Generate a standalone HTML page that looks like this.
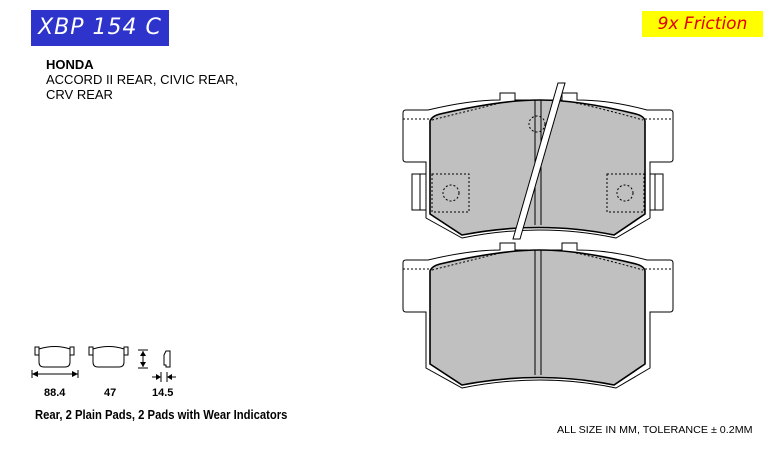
<!DOCTYPE html>
<html><head><meta charset="utf-8"><style>
body{margin:0;width:779px;height:463px;background:#fff;position:relative;overflow:hidden;font-family:"Liberation Sans",sans-serif}
.t{position:absolute;white-space:nowrap}
</style></head><body>
<div class="t" style="left:31px;top:10px;width:138px;height:36px;background:#2e33cc;color:#fff;font-family:'DejaVu Sans',sans-serif;font-style:italic;font-size:22px;line-height:36px;text-align:center;letter-spacing:1px">XBP 154 C</div>
<div class="t" style="left:642px;top:11px;width:121px;height:26px;background:#ffff00;color:#e00000;font-family:'DejaVu Sans',sans-serif;font-style:italic;font-size:17px;line-height:26px;text-align:center">9x Friction</div>
<div class="t" style="left:46px;top:57px;font-size:13px;line-height:15px;font-weight:bold">HONDA</div>
<div class="t" style="left:46px;top:72px;font-size:13px;line-height:15px">ACCORD II REAR, CIVIC REAR,</div>
<div class="t" style="left:46px;top:87px;font-size:13px;line-height:15px">CRV REAR</div>
<div class="t" style="left:44px;top:387px;font-size:11px;font-weight:bold">88.4</div>
<div class="t" style="left:104px;top:387px;font-size:11px;font-weight:bold">47</div>
<div class="t" style="left:152px;top:387px;font-size:11px;font-weight:bold">14.5</div>
<div class="t" style="left:35px;top:408px;font-size:12.5px;font-weight:bold;transform:scaleX(0.9);transform-origin:left">Rear, 2 Plain Pads, 2 Pads with Wear Indicators</div>
<div class="t" style="left:557px;top:424px;font-size:10.5px;transform:scaleX(1.02);transform-origin:left">ALL SIZE IN MM, TOLERANCE ± 0.2MM</div>
<svg width="779" height="463" style="position:absolute;left:0;top:0" fill="none" stroke="#000">
<defs>
<g id="pad">
<path d="M426,162 H406 Q403,162 403,159 V113 Q403,110 406,110 H428 Q470,100 500,100 V93 H515 V100 H562 V93 H577 V100 Q610,100 647,110 H670 Q673,110 673,113 V159 Q673,162 670,162 H650 V218 L616,238 Q540,222 462,238 L426,218 Z" fill="#fff" stroke-width="1"/>
<path d="M430,121 Q432,116 440,114 Q500,100 540,100 Q580,100 636,114 Q644,116 645,121 V214 L614,235 Q540,220 462,235 L430,214 Z" fill="#c0c0c0" stroke-width="1.6"/>
<line x1="535" y1="100" x2="535" y2="225"/><line x1="541" y1="100" x2="541" y2="225"/>
<path d="M432,120 Q480,108 500,103 M576,103 Q600,108 643,120" stroke-dasharray="2,2"/>
<path d="M403,119 H430 M645,119 H673" stroke-dasharray="2,2"/>
</g>
<g id="mini">
<rect x="35" y="347" width="4" height="8" fill="#fff"/><rect x="70" y="347" width="4" height="8" fill="#fff"/>
<path d="M39,349 Q55,344 70,349 V362 Q70,367 65,367 H44 Q39,367 39,362 Z" fill="#fff"/>
</g>
</defs>
<use href="#pad" transform="translate(0,150)"/>
<rect x="412" y="174" width="14" height="36" fill="#fff"/><rect x="650" y="174" width="13" height="36" fill="#fff"/>
<line x1="420" y1="174" x2="420" y2="210"/><line x1="655" y1="174" x2="655" y2="210"/>
<use href="#pad"/>
<g stroke-dasharray="2,2">
<rect x="432" y="174" width="37" height="38"/><circle cx="451" cy="193" r="8"/>
<rect x="607" y="174" width="37" height="38"/><circle cx="625" cy="193" r="8"/>
<circle cx="537" cy="124" r="8"/>
</g>
<polygon points="558,83 565,83 520,239 513,239" fill="#fff"/>
<g stroke-width="1">
<use href="#mini"/>
<use href="#mini" transform="translate(54,0)"/>
<line x1="32" y1="374" x2="78" y2="374"/><line x1="32" y1="370" x2="32" y2="378"/><line x1="78" y1="370" x2="78" y2="378"/>
<line x1="138" y1="350" x2="148" y2="350"/><line x1="138" y1="368" x2="148" y2="368"/><line x1="143" y1="351" x2="143" y2="367"/>
<path d="M164,355 L166,351 H170 V367 H166 V365 H164 Z" fill="#fff"/>
<line x1="152" y1="377" x2="160" y2="377"/><line x1="168" y1="377" x2="176" y2="377"/>
<line x1="161" y1="372" x2="161" y2="382"/><line x1="167" y1="372" x2="167" y2="382"/>
</g>
<g fill="#000" stroke="none">
<path d="M32,374 l6,-3 v6z M78,374 l-6,-3 v6z M143,351 l-3,5 h6z M143,367 l-3,-5 h6z M161,377 l-5,-3 v6z M167,377 l5,-3 v6z"/>
</g>
</svg>
</body></html>
